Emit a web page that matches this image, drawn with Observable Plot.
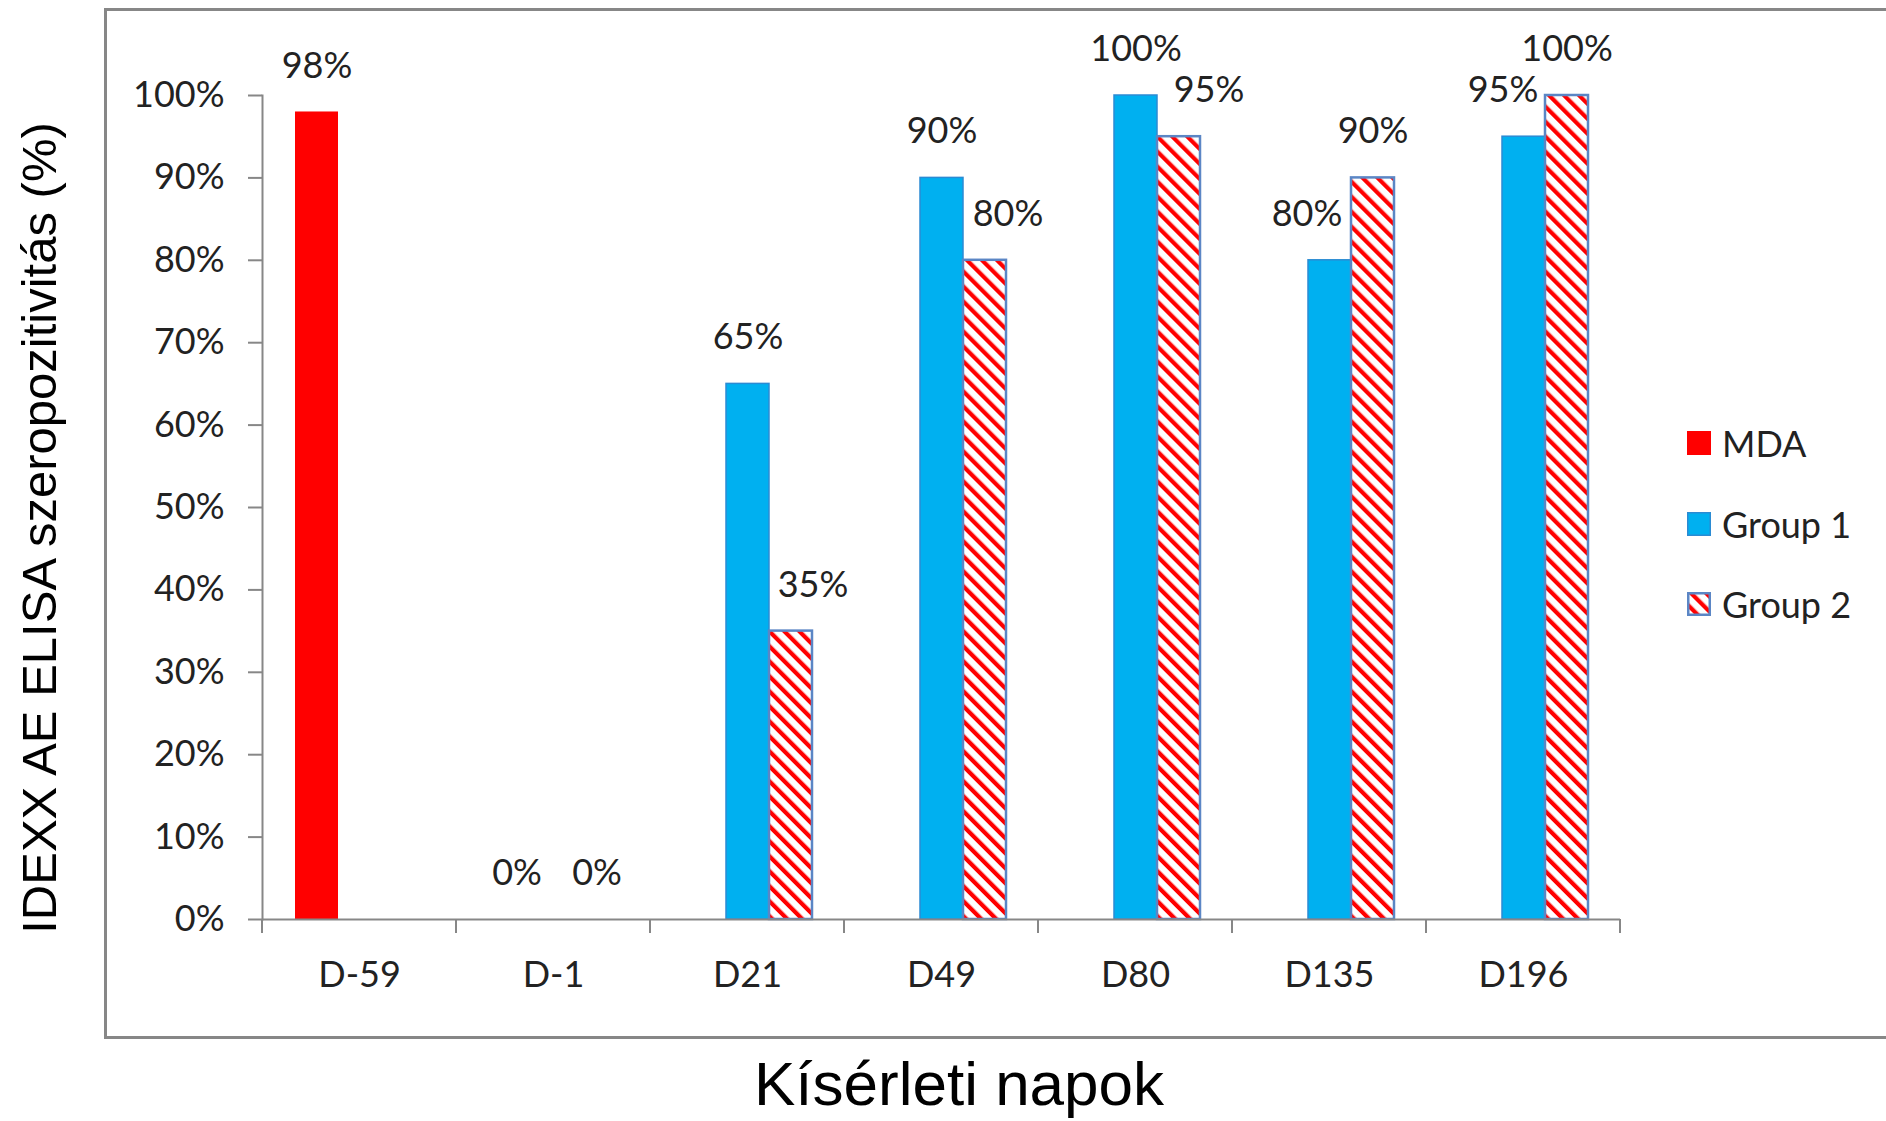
<!DOCTYPE html>
<html>
<head>
<meta charset="utf-8">
<script src="https://cdn.jsdelivr.net/npm/d3@7"></script>
<script src="https://cdn.jsdelivr.net/npm/@observablehq/plot@0.6"></script>
<style>
  html, body { margin: 0; padding: 0; background: #fff; overflow: hidden; }
  #wrap { position: relative; width: 1886px; height: 1121px; overflow: hidden; background: #fff; }
  #frame { position: absolute; left: 104px; top: 8px; width: 1840px; height: 1031px; box-sizing: border-box; border: 3.5px solid #878787; }
  #chart { position: absolute; left: 0; top: 0; }
  #titles { position: absolute; left: 0; top: 0; pointer-events: none; }
  #legend { position: absolute; left: 1687px; top: 431px; font-family: Lato, "Open Sans", sans-serif; font-size: 36px; color: #222; }
  .item { display: flex; align-items: center; height: 24px; margin-bottom: 56.5px; }
  .item svg { flex: none; }
  .item span { margin-left: 11px; line-height: 24px; white-space: nowrap; }
</style>
</head>
<body>
<svg width="0" height="0" style="position:absolute">
  <defs>
    <pattern id="stripes" patternUnits="userSpaceOnUse" width="10.6" height="10.6" patternTransform="rotate(-45)">
      <rect width="10.6" height="10.6" fill="#ffffff"></rect>
      <rect width="4.2" height="10.6" fill="#ff0000"></rect>
    </pattern>
  </defs>
</svg>
<div id="wrap">
  <div id="frame"></div>
  <div id="chart"></div>
  <svg id="titles" width="1886" height="1121"></svg>
  <div id="legend"></div>
</div>
<script>
// ---- data ----
const days = ["D-59", "D-1", "D21", "D49", "D80", "D135", "D196"];
const seriesNames = ["MDA", "Group 1", "Group 2"];
const mda    = [0.98, null, null, null, null, null, null];
const group1 = [null, 0.00, 0.65, 0.90, 1.00, 0.80, 0.95];
const group2 = [null, 0.00, 0.35, 0.80, 0.95, 0.90, 1.00];
const yTicks = [0, 0.1, 0.2, 0.3, 0.4, 0.5, 0.6, 0.7, 0.8, 0.9, 1.0];
const yTitle = "IDEXX AE ELISA szeropozitivitás (%)";
const xTitle = "Kísérleti napok";

// ---- table ----
const bySeries = {"MDA": mda, "Group 1": group1, "Group 2": group2};
const rows = [];
days.forEach((day, i) => {
  seriesNames.forEach(s => {
    const v = bySeries[s][i];
    if (v != null) rows.push({day, series: s, value: v});
  });
});

// ---- styles ----
const axisGray = "#878787";
const textColor = "#222";
const styles = {
  "MDA": {fill: "#FF0000", stroke: "none", strokeWidth: 0},
  "Group 1": {fill: "#00B0F0", stroke: "#2B8BD3", strokeWidth: 1.5},
  "Group 2": {fill: "url(#stripes)", stroke: "#5B86C5", strokeWidth: 2.5}
};
// manual label nudges (horizontal, px) as in the original
const labelShift = new Map([
  ["D-1|Group 1", -37], ["D21|Group 2", 22], ["D49|Group 2", 23],
  ["D80|Group 2", 30], ["D135|Group 1", -23], ["D196|Group 1", -21]
]);
const shiftOf = d => labelShift.get(d.day + "|" + d.series) ?? 0;
const shifts = [...new Set(rows.map(shiftOf))];
const pct = d3.format(".0%");

// category boundary ticks below the baseline (per facet edges)
const boundaryTicks = (index, scales, values, dims) => {
  const g = d3.create("svg:g").attr("stroke", axisGray).attr("stroke-width", 2);
  const y0 = scales.y(0);
  for (const x of [dims.marginLeft, dims.width - dims.marginRight]) {
    g.append("line").attr("x1", x).attr("x2", x).attr("y1", y0).attr("y2", y0 + 14);
  }
  return g.node();
};

const barMarks = seriesNames.map(s => Plot.barY(rows, {
  filter: d => d.series === s && d.value > 0,
  fx: "day", x: "series", y: "value",
  fill: styles[s].fill, stroke: styles[s].stroke, strokeWidth: styles[s].strokeWidth
}));

const labelMarks = shifts.map(sh => Plot.text(rows, {
  filter: d => shiftOf(d) === sh,
  fx: "day", x: "series", y: "value",
  text: d => pct(d.value), dy: -46, dx: sh,
  fontSize: 36, fill: textColor
}));

const chart = Plot.plot({
  width: 1886, height: 1121,
  marginLeft: 260, marginRight: 265, marginTop: 95, marginBottom: 202,
  style: {fontFamily: "Lato, 'Open Sans', sans-serif", fontSize: "36px", color: textColor, background: "transparent"},
  fx: {domain: days, padding: 0, label: null},
  x: {domain: seriesNames, paddingInner: 0, paddingOuter: 0.75, axis: null},
  y: {domain: [0, 1], label: null},
  marks: [
    ...barMarks,
    Plot.frame({anchor: "left", stroke: axisGray, strokeWidth: 2, facetAnchor: "left"}),
    Plot.ruleY([0], {stroke: axisGray, strokeWidth: 2}),
    boundaryTicks,
    Plot.axisY(yTicks, {tickFormat: pct, tickSize: 14, tickPadding: 24, stroke: axisGray, strokeWidth: 2, strokeOpacity: 1, fill: textColor, fontSize: 36, label: null}),
    Plot.axisFx({anchor: "bottom", tickSize: 0, tickPadding: 42, fill: textColor, fontSize: 36, label: null}),
    ...labelMarks
  ]
});
document.getElementById("chart").appendChild(chart);

// ---- titles ----
const titles = d3.select("#titles");
titles.append("text")
  .attr("transform", "translate(56,528) rotate(-90)")
  .attr("text-anchor", "middle")
  .attr("font-family", "'Liberation Sans', Arial, sans-serif")
  .attr("font-size", 49).attr("fill", "#000")
  .text(yTitle);
titles.append("text")
  .attr("x", 959).attr("y", 1105)
  .attr("text-anchor", "middle")
  .attr("font-family", "'Liberation Sans', Arial, sans-serif")
  .attr("font-size", 62).attr("fill", "#000")
  .text(xTitle);

// ---- legend ----
const legend = d3.select("#legend");
seriesNames.forEach(s => {
  const it = legend.append("div").attr("class", "item");
  const sw = it.append("svg").attr("width", 24).attr("height", 24);
  const st = styles[s];
  const inset = st.strokeWidth / 2;
  sw.append("rect").attr("x", inset).attr("y", inset)
    .attr("width", 24 - 2 * inset).attr("height", 24 - 2 * inset)
    .attr("fill", st.fill).attr("stroke", st.stroke).attr("stroke-width", st.strokeWidth);
  it.append("span").text(s);
});
</script>
</body>
</html>
